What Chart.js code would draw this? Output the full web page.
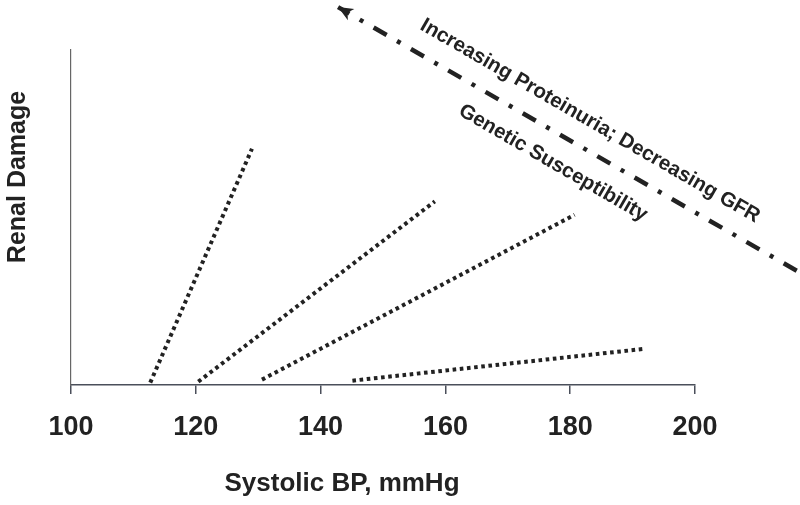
<!DOCTYPE html>
<html>
<head>
<meta charset="utf-8">
<title>Renal Damage vs Systolic BP</title>
<script src="https://cdn.jsdelivr.net/npm/chart.js@4.4.1/dist/chart.umd.min.js"></script>
<style>
  html, body { margin: 0; padding: 0; background: #fff; }
  #chart { display: block; }
</style>
</head>
<body>
<canvas id="chart" width="800" height="505"></canvas>
<script>
// x: systolic BP (mmHg), y: renal damage (arbitrary 0-100)
const xTicks = [100, 120, 140, 160, 180, 200];

const line1X = [112.7, 129.0];
const line1Y = [0.7, 70.5];
const line2X = [120.4, 158.3];
const line2Y = [1.0, 54.8];
const line3X = [130.6, 180.7];
const line3Y = [1.6, 50.8];
const line4X = [145.1, 191.9];
const line4Y = [1.3, 10.8];

// dash-dot arrow, drawn from lower right to the arrow tip
const arrowX = [216.3, 142.8];
const arrowY = [34.1, 112.8];

const labelTop = 'Increasing Proteinuria; Decreasing GFR';
const labelBottom = 'Genetic Susceptibility';
const xTitle = 'Systolic BP, mmHg';
const yTitle = 'Renal Damage';

const ink = '#222';
const font = "'Liberation Sans', Arial, sans-serif";

const pts = (xs, ys) => xs.map((x, i) => ({ x, y: ys[i] }));

const dotted = (xs, ys) => ({
  data: pts(xs, ys),
  borderColor: ink,
  borderWidth: 4,
  borderDash: [3.6, 3.6],
  pointRadius: 0,
  fill: false,
  tension: 0,
});

const annotations = {
  id: 'annotations',
  afterDraw(chart) {
    const ctx = chart.ctx;
    const xs = chart.scales.x, ys = chart.scales.y;
    ctx.save();
    ctx.fillStyle = ink;

    // arrow head at the last arrow point
    const n = arrowX.length;
    const tx = xs.getPixelForValue(arrowX[n - 1]), ty = ys.getPixelForValue(arrowY[n - 1]);
    const bx = xs.getPixelForValue(arrowX[n - 2]), by = ys.getPixelForValue(arrowY[n - 2]);
    const a = Math.atan2(ty - by, tx - bx);
    ctx.save();
    ctx.translate(tx, ty);
    ctx.rotate(a);
    ctx.beginPath();
    ctx.moveTo(0, 0);
    ctx.lineTo(-15, -6.5);
    ctx.lineTo(-11, 0);
    ctx.lineTo(-15, 6.5);
    ctx.closePath();
    ctx.fill();
    ctx.restore();

    ctx.textAlign = 'center';
    ctx.textBaseline = 'middle';

    ctx.font = 'bold 26px ' + font;
    ctx.fillText(xTitle, 342, 484);

    ctx.save();
    ctx.translate(18, 177);
    ctx.rotate(-Math.PI / 2);
    ctx.font = 'bold 25px ' + font;
    ctx.fillText(yTitle, 0, 0);
    ctx.restore();

    const angle = 30 * Math.PI / 180;
    ctx.font = 'bold 20.5px ' + font;

    ctx.save();
    ctx.translate(590, 121);
    ctx.rotate(angle);
    ctx.fillText(labelTop, 0, 0);
    ctx.restore();

    ctx.save();
    ctx.translate(553, 163);
    ctx.rotate(angle);
    ctx.fillText(labelBottom, 0, 0);
    ctx.restore();

    ctx.restore();
  }
};

new Chart(document.getElementById('chart'), {
  type: 'line',
  data: {
    datasets: [
      dotted(line1X, line1Y),
      dotted(line2X, line2Y),
      dotted(line3X, line3Y),
      dotted(line4X, line4Y),
      {
        data: pts(arrowX, arrowY),
        borderColor: ink,
        borderWidth: 4.5,
        borderDash: [15, 12, 4, 12],
        pointRadius: 0,
        fill: false,
        clip: false,
      }
    ]
  },
  options: {
    responsive: false,
    devicePixelRatio: 1,
    animation: false,
    layout: { padding: { top: 50, right: 105, left: 0, bottom: 0 } },
    plugins: {
      legend: { display: false },
      tooltip: { enabled: false },
    },
    scales: {
      x: {
        type: 'linear',
        min: 100,
        max: 200,
        afterFit: (s) => { s.height = 120; },
        afterBuildTicks: (s) => { s.ticks = xTicks.map(v => ({ value: v })); },
        border: { display: true, color: '#4a4f5a', width: 1.5 },
        grid: { drawOnChartArea: false, drawTicks: true, tickLength: 9, color: '#4a4f5a', lineWidth: 1.5 },
        ticks: {
          color: ink,
          padding: 17,
          maxRotation: 0,
          font: { family: font, size: 27, weight: 'bold' },
        },
      },
      y: {
        min: 0,
        max: 100,
        afterFit: (s) => { s.width = 71; },
        border: { display: true, color: '#666', width: 1.2 },
        grid: { display: false },
        ticks: { display: false },
      }
    }
  },
  plugins: [annotations]
});
</script>
</body>
</html>
